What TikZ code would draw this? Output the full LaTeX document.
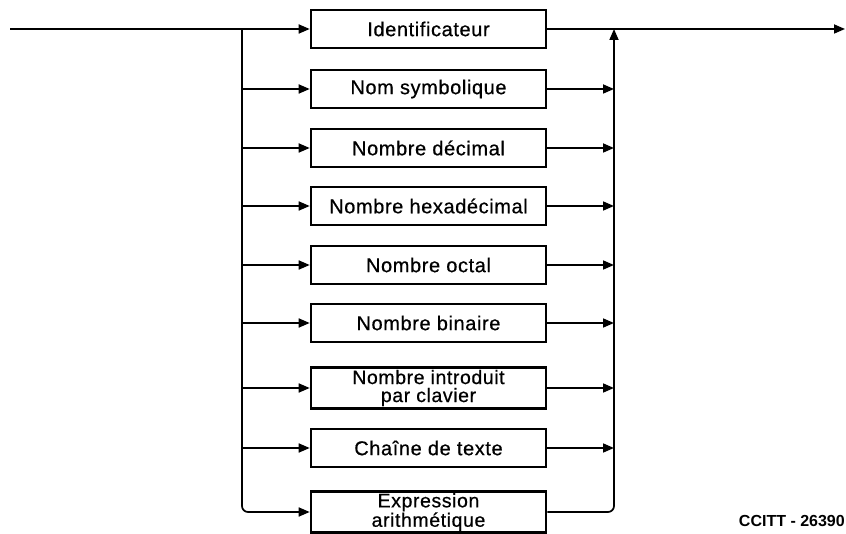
\documentclass[tikz,border=0pt]{standalone}
\usepackage{fontspec}
\setmainfont{Liberation Sans}
\newfontfamily\boxfont[LetterSpace=3,FakeBold=0.6]{Liberation Sans}
\usetikzlibrary{arrows.meta}
\begin{document}
\begin{tikzpicture}[x=1pt,y=-1pt,
  box/.style={draw,line width=2.6pt,minimum width=235pt,minimum height=38pt,inner sep=0pt,font=\boxfont\fontsize{20}{18}\selectfont,align=center},
  twoline/.style={box,minimum height=41pt,font=\boxfont\fontsize{19.5}{18}\selectfont},
  flow/.style={line width=1.7pt},
  arr/.style={flow,-{Triangle[length=11pt,width=9pt]}},
  lbl/.style={font=\bfseries\fontsize{16}{16}\selectfont,inner sep=0pt}
]
\useasboundingbox (0,0) rectangle (846,534);
\coordinate (start) at (10,29);
\coordinate (end) at (845,29);
\coordinate (L1) at (242,29);
\coordinate (R1) at (614,29);
\node[box] (b1) at (428.5,29) {Identificateur};
\node[box] (b2) at (428.5,89) {Nom symbolique};
\node[box] (b3) at (428.5,148) {Nombre décimal};
\node[box] (b4) at (428.5,206) {Nombre hexadécimal};
\node[box] (b5) at (428.5,265) {Nombre octal};
\node[box] (b6) at (428.5,323) {Nombre binaire};
\node[twoline] (b7) at (428.5,388) {Nombre introduit\\par clavier};
\node[box] (b8) at (428.5,448) {Chaîne de texte};
\node[twoline] (b9) at (428.5,512) {Expression\\arithmétique};
\draw[arr] (start) -- (b1.west);
\draw[arr] (b1.east) -- (end);
\draw[arr,rounded corners=6pt] (L1) |- (b9.west);
\draw[arr,rounded corners=6pt] (b9.east) -| (R1);
\foreach \i in {2,...,8}{
  \draw[arr] (L1 |- b\i.west) -- (b\i.west);
  \draw[arr] (b\i.east) -- (R1 |- b\i.east);
}
\node[lbl,anchor=east] (code) at (845,521) {CCITT - 26390};
\end{tikzpicture}
\end{document}
